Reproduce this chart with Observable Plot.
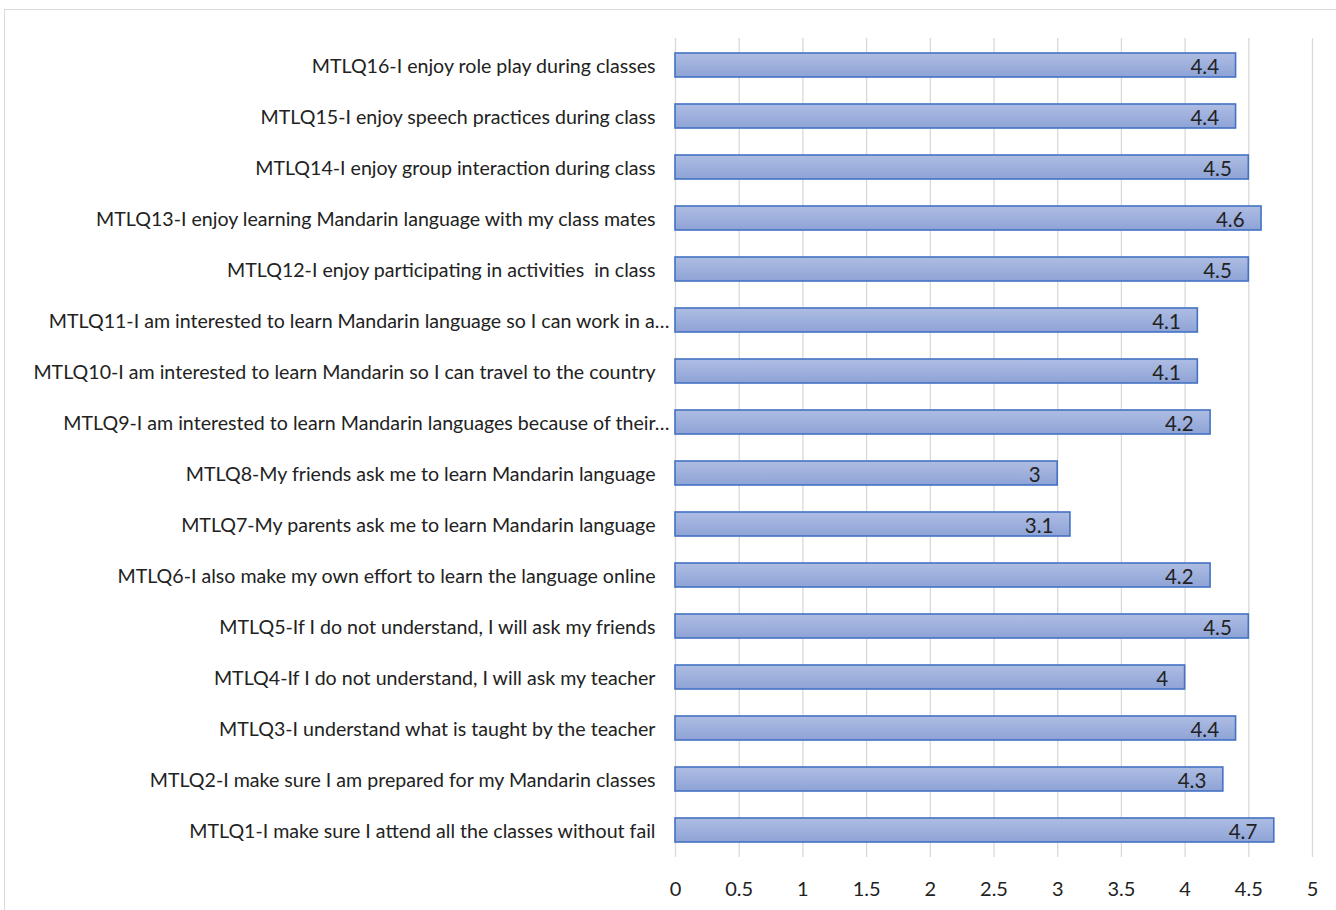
<!DOCTYPE html>
<html><head><meta charset="utf-8">
<script src="https://cdn.jsdelivr.net/npm/d3@7"></script>
<script src="https://cdn.jsdelivr.net/npm/@observablehq/plot@0.6"></script>
<style>
body{margin:0;background:#fff;overflow:hidden;}
#frame{position:absolute;left:4px;top:9px;width:1340px;height:910px;border:1px solid #d9d9d9;box-sizing:border-box;}
#chart{position:absolute;left:0;top:0;}
</style></head>
<body><div id="frame"></div><div id="chart"></div>
<script>
const categories = [
  "MTLQ16-I enjoy role play during classes",
  "MTLQ15-I enjoy speech practices during class",
  "MTLQ14-I enjoy group interaction during class",
  "MTLQ13-I enjoy learning Mandarin language with my class mates",
  "MTLQ12-I enjoy participating in activities  in class",
  "MTLQ11-I am interested to learn Mandarin language so I can work in a…",
  "MTLQ10-I am interested to learn Mandarin so I can travel to the country",
  "MTLQ9-I am interested to learn Mandarin languages because of their…",
  "MTLQ8-My friends ask me to learn Mandarin language",
  "MTLQ7-My parents ask me to learn Mandarin language",
  "MTLQ6-I also make my own effort to learn the language online",
  "MTLQ5-If I do not understand, I will ask my friends",
  "MTLQ4-If I do not understand, I will ask my teacher",
  "MTLQ3-I understand what is taught by the teacher",
  "MTLQ2-I make sure I am prepared for my Mandarin classes",
  "MTLQ1-I make sure I attend all the classes without fail"
];
const values = [4.4, 4.4, 4.5, 4.6, 4.5, 4.1, 4.1, 4.2, 3, 3.1, 4.2, 4.5, 4, 4.4, 4.3, 4.7];
const xTicks = [0, 0.5, 1, 1.5, 2, 2.5, 3, 3.5, 4, 4.5, 5];

const data = categories.map((c, i) => ({cat: c, value: values[i]}));
const truncated = categories.filter(c => c.endsWith("…"));
const full = categories.filter(c => !c.endsWith("…"));

const yAxisStyle = {tickSize: 0, fontSize: 19.6, fill: "#222", label: null, textOverflow: null, lineWidth: Infinity, dy: 1};

const chart = Plot.plot({
  width: 1336,
  height: 910,
  marginLeft: 675,
  marginRight: 24,
  marginTop: 38,
  marginBottom: 53,
  style: {fontFamily: "Lato, 'Open Sans', sans-serif", background: "transparent"},
  x: {domain: [0, 5], ticks: xTicks, tickFormat: d => String(d), label: null},
  y: {domain: categories, label: null, paddingInner: 0.52, paddingOuter: 0.26},
  marks: [
    Plot.gridX(xTicks, {stroke: "#d9d9d9", strokeOpacity: 1, strokeWidth: 1.3}),
    Plot.axisX({ticks: xTicks, tickSize: 0, tickPadding: 24, fontSize: 20, fill: "#222", tickFormat: d => String(d), label: null}),
    Plot.axisY({...yAxisStyle, ticks: full, tickPadding: 20}),
    Plot.axisY({...yAxisStyle, ticks: truncated, tickPadding: 6}),
    Plot.barX(data, {y: "cat", x: "value", fill: "url(#barGrad)", stroke: "#4472c4", strokeWidth: 1.6}),
    Plot.text(data, {y: "cat", x: "value", text: d => String(d.value), textAnchor: "end", dx: -17, dy: 2, fontSize: 20.5, fill: "#222"})
  ]
});

const svgns = "http://www.w3.org/2000/svg";
const defs = document.createElementNS(svgns, "defs");
defs.innerHTML = '<linearGradient id="barGrad" x1="0" y1="0" x2="0" y2="1"><stop offset="0" stop-color="#aebde3"/><stop offset="1" stop-color="#8ea3d6"/></linearGradient>';
chart.insertBefore(defs, chart.firstChild);
document.getElementById("chart").appendChild(chart);
</script>
</body></html>
